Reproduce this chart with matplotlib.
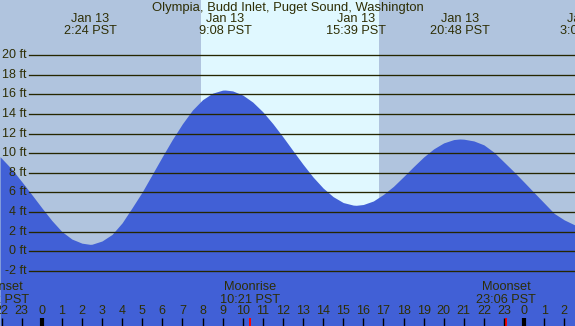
import matplotlib
matplotlib.use("Agg")
import matplotlib.pyplot as plt

# ---- data (hours relative to Jan 13 00:00 PST, heights in ft) ----
tide_hours = [-2.07, -1.5, -1, -0.5, 0, 0.5, 1, 1.5, 2, 2.4, 2.5, 3, 3.5, 4, 4.5, 5, 5.5, 6,
              6.5, 7, 7.5, 8, 8.5, 9, 9.13, 9.5, 10, 10.5, 11, 11.5, 12, 12.5, 13, 13.5, 14,
              14.5, 15, 15.5, 15.65, 16, 16.5, 17, 17.5, 18, 18.5, 19, 19.5, 20, 20.5, 20.8,
              21, 21.5, 22, 22.5, 23, 23.5, 24, 24.5, 25, 25.5, 26, 26.53]
tide_ft = [9.64, 8.4, 7.12, 5.8, 4.45, 3.15, 2.02, 1.25, 0.83, 0.71, 0.72, 1.05, 1.72, 2.9,
           4.45, 6.05, 7.85, 9.65, 11.4, 13.0, 14.4, 15.45, 16.12, 16.43, 16.44, 16.35, 15.93,
           15.21, 14.22, 13.01, 11.67, 10.26, 8.87, 7.57, 6.45, 5.57, 4.97, 4.71, 4.69, 4.77,
           5.13, 5.8, 6.62, 7.61, 8.63, 9.61, 10.44, 11.05, 11.39, 11.45, 11.43, 11.25, 10.85,
           10.1, 9.1, 8.1, 7.05, 5.98, 4.92, 3.86, 3.2, 2.68]

extreme_hours = [2.40, 9.133, 15.65, 20.8, 27.08]
extreme_labels = ["Jan 13\n2:24 PST", "Jan 13\n9:08 PST", "Jan 13\n15:39 PST",
                  "Jan 13\n20:48 PST", "Jan 14\n3:05 PST"]

sunrise_h, sunset_h = 7.93, 16.78

moon_hours = [-2.14, 10.35, 23.1]
moon_labels = ["Moonset\n21:52 PST", "Moonrise\n10:21 PST", "Moonset\n23:06 PST"]

grid_ft = list(range(-2, 21, 2))
hour_ticks = list(range(-2, 27))
hour_labels = [str(h % 24) for h in hour_ticks]

title = "Olympia, Budd Inlet, Puget Sound, Washington"

# ---- layout ----
W, H = 575, 326
px_per_hr = 20.1
x0_px = 41.7            # pixel of hour 0
y0_px = 251.3           # pixel of 0 ft
px_per_ft = 9.81

def hx(px):
    return (px - x0_px) / px_per_hr

def fy(py):
    return 1 - py / H

night = "#B0C4DE"
day = "#E0F8FF"
water = "#4160D6"
txt = "#2E2E05"
gridc = "#262600"

plt.rcParams['font.family'] = ['Liberation Sans', 'DejaVu Sans']

fig = plt.figure(figsize=(W / 100, H / 100), dpi=100)
ax = fig.add_axes([0, 0, 1, 1])
xmin, xmax = hx(0), hx(W)
ymin, ymax = (y0_px - H) / px_per_ft, y0_px / px_per_ft
ax.set_xlim(xmin, xmax)
ax.set_ylim(ymin, ymax)
ax.axis("off")
fig.patch.set_facecolor(night)

ax.axvspan(sunrise_h, sunset_h, color=day, lw=0, zorder=0)
ax.fill_between(tide_hours, ymin - 1, tide_ft, color=water, lw=0, zorder=1)

for g in grid_ft:
    ax.axhline(g, xmin=29 / W, xmax=1, color=gridc, lw=0.95, zorder=2)
    ax.text(27 / W, g, f"{g} ft", transform=ax.get_yaxis_transform(), ha="right",
            va="center", fontsize=9, color=txt, zorder=3)

ax.text(0.5, fy(7.5), title, transform=ax.transAxes, ha="center", va="center",
        fontsize=9.4, color=txt)

xt = ax.get_xaxis_transform()
for h, lab in zip(extreme_hours, extreme_labels):
    l1, l2 = lab.split("\n")
    ax.text(h, fy(19.5), l1, transform=xt, ha="center", va="center", fontsize=9.2, color=txt)
    ax.text(h, fy(31.5), l2, transform=xt, ha="center", va="center", fontsize=9.2, color=txt)

for h, lab in zip(moon_hours, moon_labels):
    l1, l2 = lab.split("\n")
    ax.text(h, fy(287.5), l1, transform=xt, ha="center", va="center", fontsize=9.2, color=txt)
    ax.text(h, fy(299.7), l2, transform=xt, ha="center", va="center", fontsize=9.2, color=txt)
    ax.plot([h, h], [fy(318), 0], transform=xt, color="red", lw=1.4, solid_capstyle="butt")

for h, lab in zip(hour_ticks, hour_labels):
    ax.text(h, fy(311.5), lab, transform=xt, ha="center", va="center", fontsize=9, color=txt)
    lw = 3.0 if h % 24 == 0 else 1.0
    ax.plot([h, h], [fy(318), 0], transform=xt, color="black", lw=lw, solid_capstyle="butt")

fig.savefig("out.png", dpi=100, facecolor=night)
